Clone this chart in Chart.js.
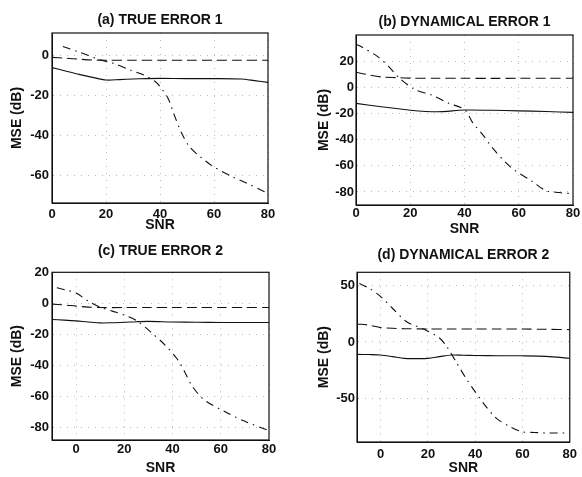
<!DOCTYPE html>
<html>
<head>
<meta charset="utf-8">
<script src="https://cdn.jsdelivr.net/npm/chart.js@4.4.0/dist/chart.umd.min.js"></script>
<style>
  html, body { margin: 0; padding: 0; background: #fff; }
  #wrap { position: relative; width: 582px; height: 477px; }
  #wrap canvas { position: absolute; }
</style>
</head>
<body>
<div id="wrap">
  <canvas id="pa" width="291" height="238" style="left:0;top:0"></canvas>
  <canvas id="pb" width="291" height="238" style="left:291px;top:0"></canvas>
  <canvas id="pc" width="291" height="239" style="left:0;top:238px"></canvas>
  <canvas id="pd" width="291" height="239" style="left:291px;top:238px"></canvas>
</div>
<script>
// === DATA ===
// (a) TRUE ERROR 1
const aSolidX   = [0, 5, 10, 15, 20, 25, 30, 35, 40, 50, 60, 70, 75, 80];
const aSolidY   = [-6.3, -8, -9.7, -11.2, -12.5, -12.3, -12, -11.8, -11.7, -11.8, -11.8, -12, -12.8, -13.7];
const aDashX    = [0, 5, 10, 15, 20, 30, 40, 50, 60, 70, 80];
const aDashY    = [-1.2, -1.6, -2.1, -2.5, -2.6, -2.6, -2.6, -2.6, -2.6, -2.6, -2.6];
const aDotX     = [4, 10, 18, 23, 29, 34, 38, 40, 43, 45, 48, 51, 55, 60, 67, 72, 79];
const aDotY     = [4.2, 1.5, -2.5, -4.2, -7.5, -10, -13, -15.8, -21.7, -29, -39, -46, -51, -56, -61, -64, -68.5];

// (b) DYNAMICAL ERROR 1
const bSolidX   = [0, 10, 20, 30, 40, 50, 60, 70, 80];
const bSolidY   = [-12.3, -15, -17.5, -18.7, -17.4, -17.6, -18, -18.5, -19.2];
const bDashX    = [0, 5, 10, 15, 20, 30, 40, 50, 60, 70, 80];
const bDashY    = [11.5, 9.4, 7.8, 7.4, 7, 6.9, 6.9, 6.8, 6.9, 6.9, 6.9];
const bDotX     = [0, 2, 8, 12, 16, 22, 28, 34, 40, 43, 47, 50, 57, 65, 70, 75, 80];
const bDotY     = [33, 31, 23.5, 16, 7, -2, -6, -12, -17, -27, -37, -45.6, -61, -72, -79, -80.5, -81.4];

// (c) TRUE ERROR 2
const cSolidX   = [-10, -5, 0, 5, 10, 15, 20, 25, 30, 40, 50, 60, 70, 80];
const cSolidY   = [-10.4, -10.8, -11.3, -12, -12.6, -12.5, -12.2, -11.8, -11.6, -12, -12.2, -12.3, -12.3, -12.3];
const cDashX    = [-10, -5, 0, 5, 10, 20, 30, 40, 50, 60, 70, 80];
const cDashY    = [-0.5, -1, -1.8, -2.4, -2.7, -2.7, -2.7, -2.7, -2.7, -2.7, -2.7, -2.7];
const cDotX     = [-8, -4, 0, 5, 10, 15, 20, 25, 31, 37, 42, 45, 48, 53, 62, 70, 80];
const cDotY     = [10, 8.5, 6.6, 1.5, -2.5, -5, -7.5, -11, -18.5, -27, -36, -44, -53, -62, -70, -76, -82];

// (d) DYNAMICAL ERROR 2
const dSolidX   = [-10, -5, 0, 5, 10, 15, 20, 25, 30, 35, 40, 50, 60, 70, 80];
const dSolidY   = [-11, -11.2, -11.6, -13, -14.6, -14.8, -14.6, -13, -11.6, -11.8, -12, -12.2, -12.3, -12.8, -14.5];
const dDashX    = [-10, -5, 0, 5, 10, 20, 30, 40, 50, 60, 70, 80];
const dDashY    = [16, 15, 12.8, 12.2, 11.8, 11.6, 11.6, 11.6, 11.6, 11.5, 11.3, 11];
const dDotX     = [-9, -5, 0, 5, 11, 19, 25, 28, 32, 36, 40, 44, 49, 55, 60, 65, 70, 75, 80];
const dDotY     = [52, 48, 40.4, 30, 18, 10.7, 3.3, -4.2, -18, -32, -44.4, -56, -68, -75.6, -80, -80.5, -81, -81, -81];

// tick labels
const xTicks    = [0, 20, 40, 60, 80];
const yTicksA   = [-60, -40, -20, 0];
const yTicksB   = [-80, -60, -40, -20, 0, 20];
const yTicksC   = [-80, -60, -40, -20, 0, 20];
const yTicksD   = [-50, 0, 50];

// === STYLE ===
const INK  = '#111';
const GRID = 'rgba(0,0,0,0.28)';
const FONT = '"Liberation Sans", Arial, sans-serif';
Chart.defaults.font.family = FONT;
Chart.defaults.color = INK;

const zip = (xs, ys) => xs.map((x, i) => ({ x, y: ys[i] }));

// MATLAB-style closed box round the plot area
const framePlugin = {
  id: 'frame',
  afterDatasetsDraw(chart){
    const { ctx, chartArea: a } = chart;
    ctx.save();
    ctx.strokeStyle = INK;
    ctx.lineWidth = 1.2;
    ctx.strokeRect(a.left, a.top, a.right - a.left, a.bottom - a.top);
    ctx.restore();
  }
};

function line(data, dash){
  return {
    data, borderColor: INK, borderWidth: 1.1, borderDash: dash,
    pointRadius: 0, tension: 0.3, fill: false
  };
}

function panel(id, p){
  new Chart(document.getElementById(id), {
    type: 'line',
    data: {
      datasets: [
        line(p.solid, []),
        line(p.dash, [10, 5]),
        line(p.dot, [8, 5, 1.5, 5])
      ]
    },
    options: {
      responsive: false,
      animation: false,
      devicePixelRatio: 1,
      layout: { padding: { left: 0, right: p.padRight, top: 0, bottom: 0 } },
      plugins: {
        legend: { display: false },
        tooltip: { enabled: false },
        title: {
          display: true, text: p.title, color: INK, fullSize: false,   // centre over the plot box
          font: { size: 14, weight: 'bold', lineHeight: 1.2 },
          padding: { top: p.titleTop, bottom: p.titleBottom }
        }
      },
      scales: {
        x: {
          type: 'linear', min: p.xMin, max: 80,
          afterBuildTicks: s => { s.ticks = xTicks.map(v => ({ value: v })); },
          afterFit: s => { s.height = p.xHeight; },
          grid: { color: GRID, drawTicks: false },
          border: { display: true, color: INK, width: 1, dash: [1, 6] },
          ticks: { padding: p.xTickPad, font: { size: 13, weight: 'bold' }, color: INK, maxRotation: 0 },
          title: { display: true, text: 'SNR', color: INK,
                   font: { size: 14, weight: 'bold', lineHeight: 1.2 },
                   padding: { top: 0, bottom: p.snrPad } }
        },
        y: {
          type: 'linear', min: p.yMin, max: p.yMax,
          afterBuildTicks: s => { s.ticks = p.yTicks.map(v => ({ value: v })); },
          afterFit: s => { s.width = p.yWidth; },
          grid: { color: GRID, drawTicks: false },
          border: { display: true, color: INK, width: 1, dash: [1, 6] },
          ticks: { padding: p.yTickPad, font: { size: 13, weight: 'bold' }, color: INK },
          title: { display: true, text: 'MSE (dB)', color: INK,
                   font: { size: 14, weight: 'bold', lineHeight: 1.2 },
                   padding: { top: p.mseTop, bottom: 0 } }
        }
      }
    },
    plugins: [framePlugin]
  });
}

panel('pa', {
  title: '(a) TRUE ERROR 1',
  solid: zip(aSolidX, aSolidY), dash: zip(aDashX, aDashY), dot: zip(aDotX, aDotY),
  xMin: 0, yMin: -74, yMax: 11, yTicks: yTicksA,
  yWidth: 52, xHeight: 35, padRight: 23,
  titleTop: 11.6, titleBottom: 4.6, xTickPad: 4, snrPad: 4, yTickPad: 3, mseTop: 9
});
panel('pb', {
  title: '(b) DYNAMICAL ERROR 1',
  solid: zip(bSolidX, bSolidY), dash: zip(bDashX, bDashY), dot: zip(bDotX, bDotY),
  xMin: 0, yMin: -90, yMax: 40, yTicks: yTicksB,
  yWidth: 65, xHeight: 33, padRight: 9,
  titleTop: 13.3, titleBottom: 4.9, xTickPad: 1, snrPad: 0, yTickPad: 2, mseTop: 25
});
panel('pc', {
  title: '(c) TRUE ERROR 2',
  solid: zip(cSolidX, cSolidY), dash: zip(cDashX, cDashY), dot: zip(cDotX, cDotY),
  xMin: -10, yMin: -88, yMax: 20, yTicks: yTicksC,
  yWidth: 52, xHeight: 37, padRight: 22,
  titleTop: 4.9, titleBottom: 12.6, xTickPad: 2, snrPad: 0, yTickPad: 3, mseTop: 9
});
panel('pd', {
  title: '(d) DYNAMICAL ERROR 2',
  solid: zip(dSolidX, dSolidY), dash: zip(dDashX, dDashY), dot: zip(dDotX, dDotY),
  xMin: -10, yMin: -89, yMax: 62, yTicks: yTicksD,
  yWidth: 66, xHeight: 35, padRight: 8.5,
  titleTop: 8.3, titleBottom: 9.2, xTickPad: 5, snrPad: 0, yTickPad: 2, mseTop: 25
});
</script>
</body>
</html>
